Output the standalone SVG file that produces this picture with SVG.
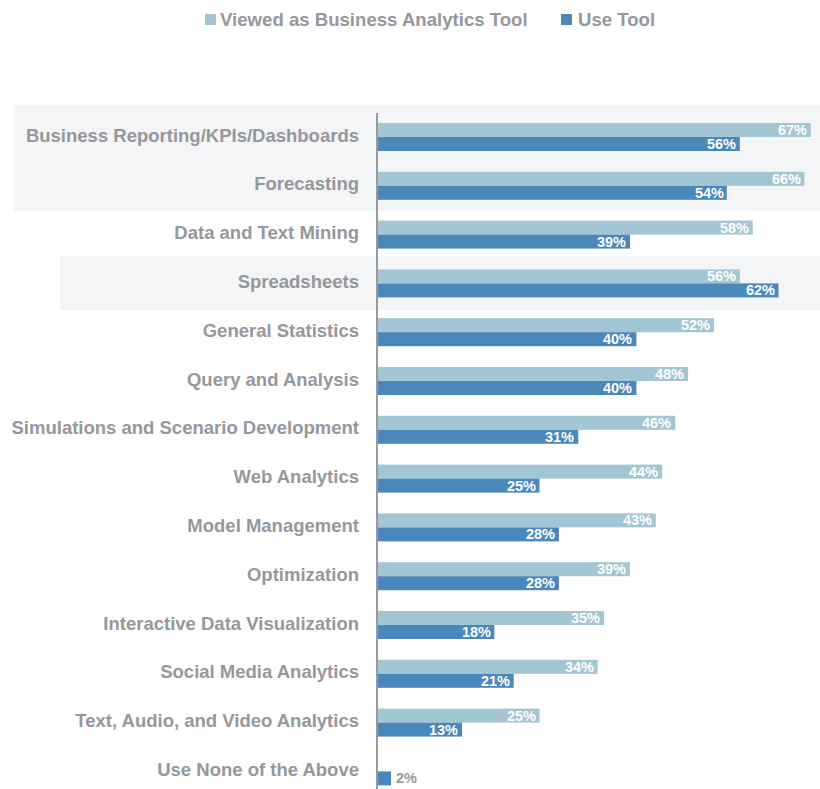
<svg xmlns="http://www.w3.org/2000/svg" width="820" height="789" viewBox="0 0 820 789">
<style>
.lbl{font-family:"Liberation Sans",Arial,sans-serif;font-weight:bold;font-size:18.5px;fill:#96979b;text-anchor:end}
.val{font-family:"Liberation Sans",Arial,sans-serif;font-weight:bold;font-size:14.5px;fill:#ffffff;text-anchor:end}
.leg{font-family:"Liberation Sans",Arial,sans-serif;font-weight:bold;font-size:18.6px;fill:#96979b}
.l{fill:#a2c6d4}
.d{fill:#4a87bb}
.band{fill:#f4f5f7}
</style>
<rect width="820" height="789" fill="#ffffff"/>
<g id="legend">
<rect class="l" x="205" y="14" width="11" height="11"/>
<text class="leg" x="220" y="25.5">Viewed as Business Analytics Tool</text>
<rect class="d" x="561" y="14" width="11" height="11"/>
<text class="leg" x="578" y="25.5">Use Tool</text>
</g>
<g id="bands">
<rect class="band" x="14" y="105" width="806" height="106"/>
<rect class="band" x="60" y="256" width="760" height="54"/>
</g>
<g id="r0"><text class="lbl" x="359" y="141.5">Business Reporting/KPIs/Dashboards</text>
<rect class="l" x="378" y="123" width="432.8" height="14"/><text class="val" x="807" y="135">67%</text>
<rect class="d" x="378" y="137" width="361.8" height="14"/><text class="val" x="736" y="149">56%</text></g>
<g id="r1" transform="translate(0,48.8)"><text class="lbl" x="359" y="141.5">Forecasting</text>
<rect class="l" x="378" y="123" width="426.4" height="14"/><text class="val" x="801" y="135">66%</text>
<rect class="d" x="378" y="137" width="348.8" height="14"/><text class="val" x="724" y="149">54%</text></g>
<g id="r2" transform="translate(0,97.6)"><text class="lbl" x="359" y="141.5">Data and Text Mining</text>
<rect class="l" x="378" y="123" width="374.7" height="14"/><text class="val" x="749" y="135">58%</text>
<rect class="d" x="378" y="137" width="252" height="14"/><text class="val" x="626" y="149">39%</text></g>
<g id="r3" transform="translate(0,146.4)"><text class="lbl" x="359" y="141.5">Spreadsheets</text>
<rect class="l" x="378" y="123" width="361.8" height="14"/><text class="val" x="736" y="135">56%</text>
<rect class="d" x="378" y="137" width="400.5" height="14"/><text class="val" x="775" y="149">62%</text></g>
<g id="r4" transform="translate(0,195.2)"><text class="lbl" x="359" y="141.5">General Statistics</text>
<rect class="l" x="378" y="123" width="335.9" height="14"/><text class="val" x="710" y="135">52%</text>
<rect class="d" x="378" y="137" width="258.4" height="14"/><text class="val" x="632" y="149">40%</text></g>
<g id="r5" transform="translate(0,244)"><text class="lbl" x="359" y="141.5">Query and Analysis</text>
<rect class="l" x="378" y="123" width="310.1" height="14"/><text class="val" x="684" y="135">48%</text>
<rect class="d" x="378" y="137" width="258.4" height="14"/><text class="val" x="632" y="149">40%</text></g>
<g id="r6" transform="translate(0,292.8)"><text class="lbl" x="359" y="141.5">Simulations and Scenario Development</text>
<rect class="l" x="378" y="123" width="297.2" height="14"/><text class="val" x="671" y="135">46%</text>
<rect class="d" x="378" y="137" width="200.3" height="14"/><text class="val" x="574" y="149">31%</text></g>
<g id="r7" transform="translate(0,341.6)"><text class="lbl" x="359" y="141.5">Web Analytics</text>
<rect class="l" x="378" y="123" width="284.2" height="14"/><text class="val" x="658" y="135">44%</text>
<rect class="d" x="378" y="137" width="161.5" height="14"/><text class="val" x="536" y="149">25%</text></g>
<g id="r8" transform="translate(0,390.4)"><text class="lbl" x="359" y="141.5">Model Management</text>
<rect class="l" x="378" y="123" width="277.8" height="14"/><text class="val" x="652" y="135">43%</text>
<rect class="d" x="378" y="137" width="180.9" height="14"/><text class="val" x="555" y="149">28%</text></g>
<g id="r9" transform="translate(0,439.2)"><text class="lbl" x="359" y="141.5">Optimization</text>
<rect class="l" x="378" y="123" width="251.9" height="14"/><text class="val" x="626" y="135">39%</text>
<rect class="d" x="378" y="137" width="180.9" height="14"/><text class="val" x="555" y="149">28%</text></g>
<g id="r10" transform="translate(0,488)"><text class="lbl" x="359" y="141.5">Interactive Data Visualization</text>
<rect class="l" x="378" y="123" width="226.1" height="14"/><text class="val" x="600" y="135">35%</text>
<rect class="d" x="378" y="137" width="116.3" height="14"/><text class="val" x="491" y="149">18%</text></g>
<g id="r11" transform="translate(0,536.8)"><text class="lbl" x="359" y="141.5">Social Media Analytics</text>
<rect class="l" x="378" y="123" width="219.6" height="14"/><text class="val" x="594" y="135">34%</text>
<rect class="d" x="378" y="137" width="135.7" height="14"/><text class="val" x="510" y="149">21%</text></g>
<g id="r12" transform="translate(0,585.6)"><text class="lbl" x="359" y="141.5">Text, Audio, and Video Analytics</text>
<rect class="l" x="378" y="123" width="161.5" height="14"/><text class="val" x="536" y="135">25%</text>
<rect class="d" x="378" y="137" width="84" height="14"/><text class="val" x="458" y="149">13%</text></g>
<g id="r13" transform="translate(0,634.4)"><text class="lbl" x="359" y="141.5">Use None of the Above</text>
<rect class="d" x="378" y="137" width="13" height="14"/><text class="val" x="396" y="149" style="fill:#96979b;text-anchor:start">2%</text></g>
<g id="axis"><line x1="377" y1="113" x2="377" y2="789" stroke="#9a9a9a" stroke-width="2"/></g>
</svg>
